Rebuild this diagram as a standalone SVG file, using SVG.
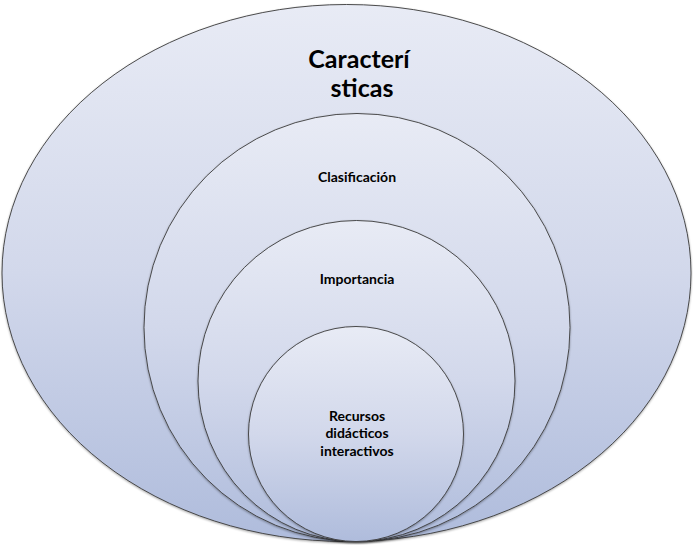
<svg xmlns="http://www.w3.org/2000/svg" width="693" height="546" viewBox="0 0 693 546">
<defs>
<linearGradient id="g" x1="0" y1="0" x2="0" y2="1">
<stop offset="0" stop-color="#E8EBF5"/>
<stop offset="0.5" stop-color="#D2D8EB"/>
<stop offset="1" stop-color="#AFBCDC"/>
</linearGradient>
<filter id="sh" x="-5%" y="-5%" width="110%" height="110%">
<feDropShadow dx="0" dy="1" stdDeviation="1" flood-color="#000" flood-opacity="0.35"/>
</filter>
</defs>
<style>
.e{fill:url(#g);stroke:#3a3a3a;stroke-width:0.9;filter:url(#sh)}
.t{font-family:Lato,"Open Sans","Liberation Sans",sans-serif;font-weight:bold;fill:#000;text-anchor:middle}
.s{font-size:14px}
.b{font-size:25px}
</style>
<rect width="693" height="546" fill="#fff"/>
<g id="n1">
<ellipse class="e" cx="346.5" cy="273" rx="344.5" ry="268.5"/>
<text class="t b" x="359" y="68">Caracterí</text>
<text class="t b" x="362" y="97">sticas</text>
</g>
<g id="n2">
<ellipse class="e" cx="357" cy="327.5" rx="213" ry="214"/>
<text class="t s" x="357" y="182">Clasificación</text>
</g>
<g id="n3">
<ellipse class="e" cx="356.5" cy="381" rx="158.5" ry="160.5"/>
<text class="t s" x="357" y="284">Importancia</text>
</g>
<g id="n4">
<ellipse class="e" cx="356" cy="434" rx="107.5" ry="107.5"/>
<text class="t s" x="357" y="421">Recursos</text>
<text class="t s" x="357" y="438">didácticos</text>
<text class="t s" x="357" y="456">interactivos</text>
</g>
<g id="connectors"></g>
</svg>
